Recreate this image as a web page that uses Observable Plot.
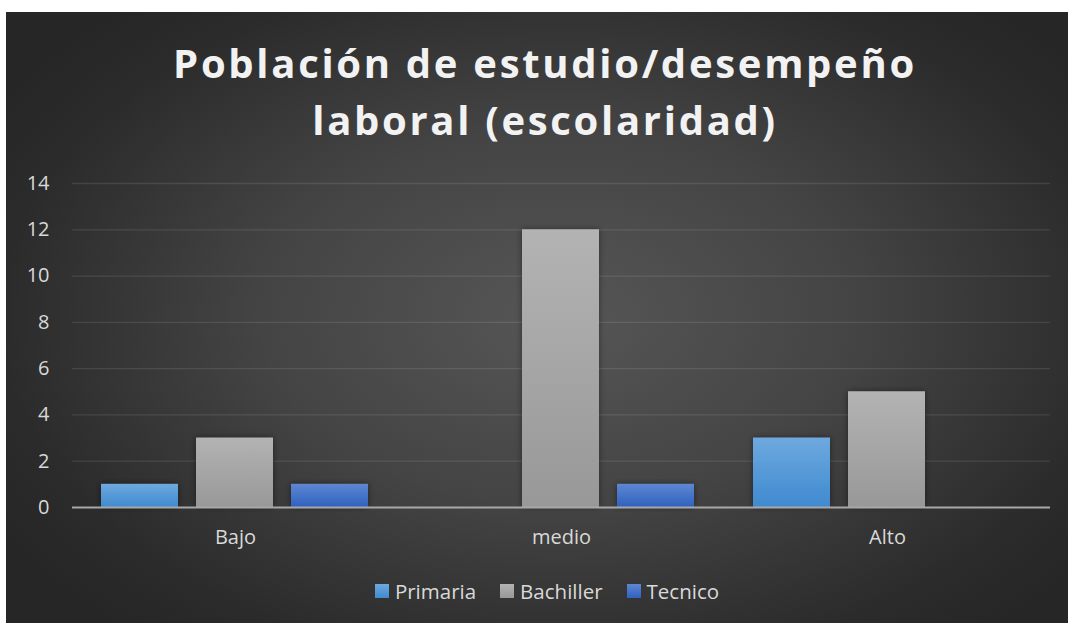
<!DOCTYPE html>
<html>
<head>
<meta charset="utf-8">
<script src="https://cdn.jsdelivr.net/npm/d3@7"></script>
<script src="https://cdn.jsdelivr.net/npm/@observablehq/plot@0.6"></script>
<style>
  html, body { margin: 0; padding: 0; background: #fff; }
  body { width: 1068px; height: 623px; position: relative; overflow: hidden; }
  #box {
    position: absolute; left: 6px; top: 12px; width: 1062px; height: 611px;
    background: radial-gradient(ellipse 62% 68% at 52% 50%, #565656 0%, #444 45%, #2b2b2b 85%, #262626 100%);
    font-family: "Open Sans", sans-serif;
  }
  #title {
    position: absolute; left: 8px; top: 22px; width: 1062px; text-align: center;
    color: #f2f2f2; font-weight: 700; font-size: 40px; line-height: 57px; letter-spacing: 2.7px;
  }
  #chart { position: absolute; left: 0; top: 148px; }
  #chart svg text { font-size: 20px !important; fill: #d9d9d9 !important; }
  #legend {
    position: absolute; left: 10px; top: 565px; width: 1062px; display: flex; justify-content: center;
    gap: 24px; color: #d9d9d9; font-size: 20.5px; font-family: "Open Sans", sans-serif;
  }
  .item { display: flex; align-items: center; gap: 6px; }
  .sw { width: 14px; height: 14px; display: inline-block; }
</style>
</head>
<body>
<div id="box">
  <div id="title">Población de estudio/desempeño<br>laboral (escolaridad)</div>
  <div id="chart"></div>
  <div id="legend"></div>
</div>
<script>
const categories = ["Bajo", "medio", "Alto"];
const series = ["Primaria", "Bachiller", "Tecnico"];
const primaria = [1, 0, 3];
const bachiller = [3, 12, 5];
const tecnico = [1, 1, 0];
const yTicks = [0, 2, 4, 6, 8, 10, 12, 14];

const seriesValues = [primaria, bachiller, tecnico];
const gradIds = ["gPrim", "gBach", "gTec"];
const gradStops = [["#6ea9df", "#3f8ad0"], ["#b3b3b3", "#989898"], ["#5e87d2", "#2f61bf"]];

const data = [];
categories.forEach((c, i) => series.forEach((s, j) => data.push({cat: c, serie: s, value: seriesValues[j][i]})));

const plot = Plot.plot({
  width: 1062,
  height: 400,
  marginLeft: 65,
  marginRight: 18,
  marginTop: 23,
  marginBottom: 53,
  style: {background: "transparent", color: "#d9d9d9", fontFamily: "Open Sans, sans-serif", fontSize: "20px"},
  fx: {domain: categories, padding: 0, label: null, axis: "bottom", tickSize: 0, tickPadding: 22},
  x: {domain: series, axis: null, paddingInner: 0.1875, paddingOuter: 0.2917},
  y: {domain: [0, 14], ticks: yTicks, label: null, tickSize: 0, tickPadding: 23, tickFormat: d3.format("d")},
  color: {type: "ordinal", domain: series, range: gradIds.map(id => `url(#${id})`)},
  marks: [
    Plot.ruleY(yTicks.filter(d => d > 0), {stroke: "#ffffff", strokeOpacity: 0.1, strokeWidth: 1.3}),
    Plot.barY(data.filter(d => d.value > 0), {fx: "cat", x: "serie", y: "value", fill: "serie"}),
    Plot.ruleY([0], {stroke: "#a8a8a8", strokeWidth: 2})
  ]
});

// gradients and subtle shadow
const ns = "http://www.w3.org/2000/svg";
const defs = document.createElementNS(ns, "defs");
gradIds.forEach((id, k) => {
  const g = document.createElementNS(ns, "linearGradient");
  g.setAttribute("id", id);
  g.setAttribute("x1", "0"); g.setAttribute("y1", "0"); g.setAttribute("x2", "0"); g.setAttribute("y2", "1");
  gradStops[k].forEach((c, m) => {
    const s = document.createElementNS(ns, "stop");
    s.setAttribute("offset", m === 0 ? "0" : "1");
    s.setAttribute("stop-color", c);
    g.appendChild(s);
  });
  defs.appendChild(g);
});
const f = document.createElementNS(ns, "filter");
f.setAttribute("id", "shadow"); f.setAttribute("x", "-20%"); f.setAttribute("y", "-20%"); f.setAttribute("width", "140%"); f.setAttribute("height", "140%");
f.innerHTML = '<feDropShadow dx="0" dy="0" stdDeviation="3" flood-color="#000" flood-opacity="0.45"/>';
defs.appendChild(f);
plot.insertBefore(defs, plot.firstChild);
plot.querySelectorAll("g[aria-label='bar'] rect").forEach(r => r.setAttribute("filter", "url(#shadow)"));

document.getElementById("chart").appendChild(plot);

const legend = document.getElementById("legend");
series.forEach((s, k) => {
  const it = document.createElement("div");
  it.className = "item";
  it.innerHTML = `<span class="sw" style="background: linear-gradient(${gradStops[k][0]}, ${gradStops[k][1]})"></span><span>${s}</span>`;
  legend.appendChild(it);
});
</script>
</body>
</html>
